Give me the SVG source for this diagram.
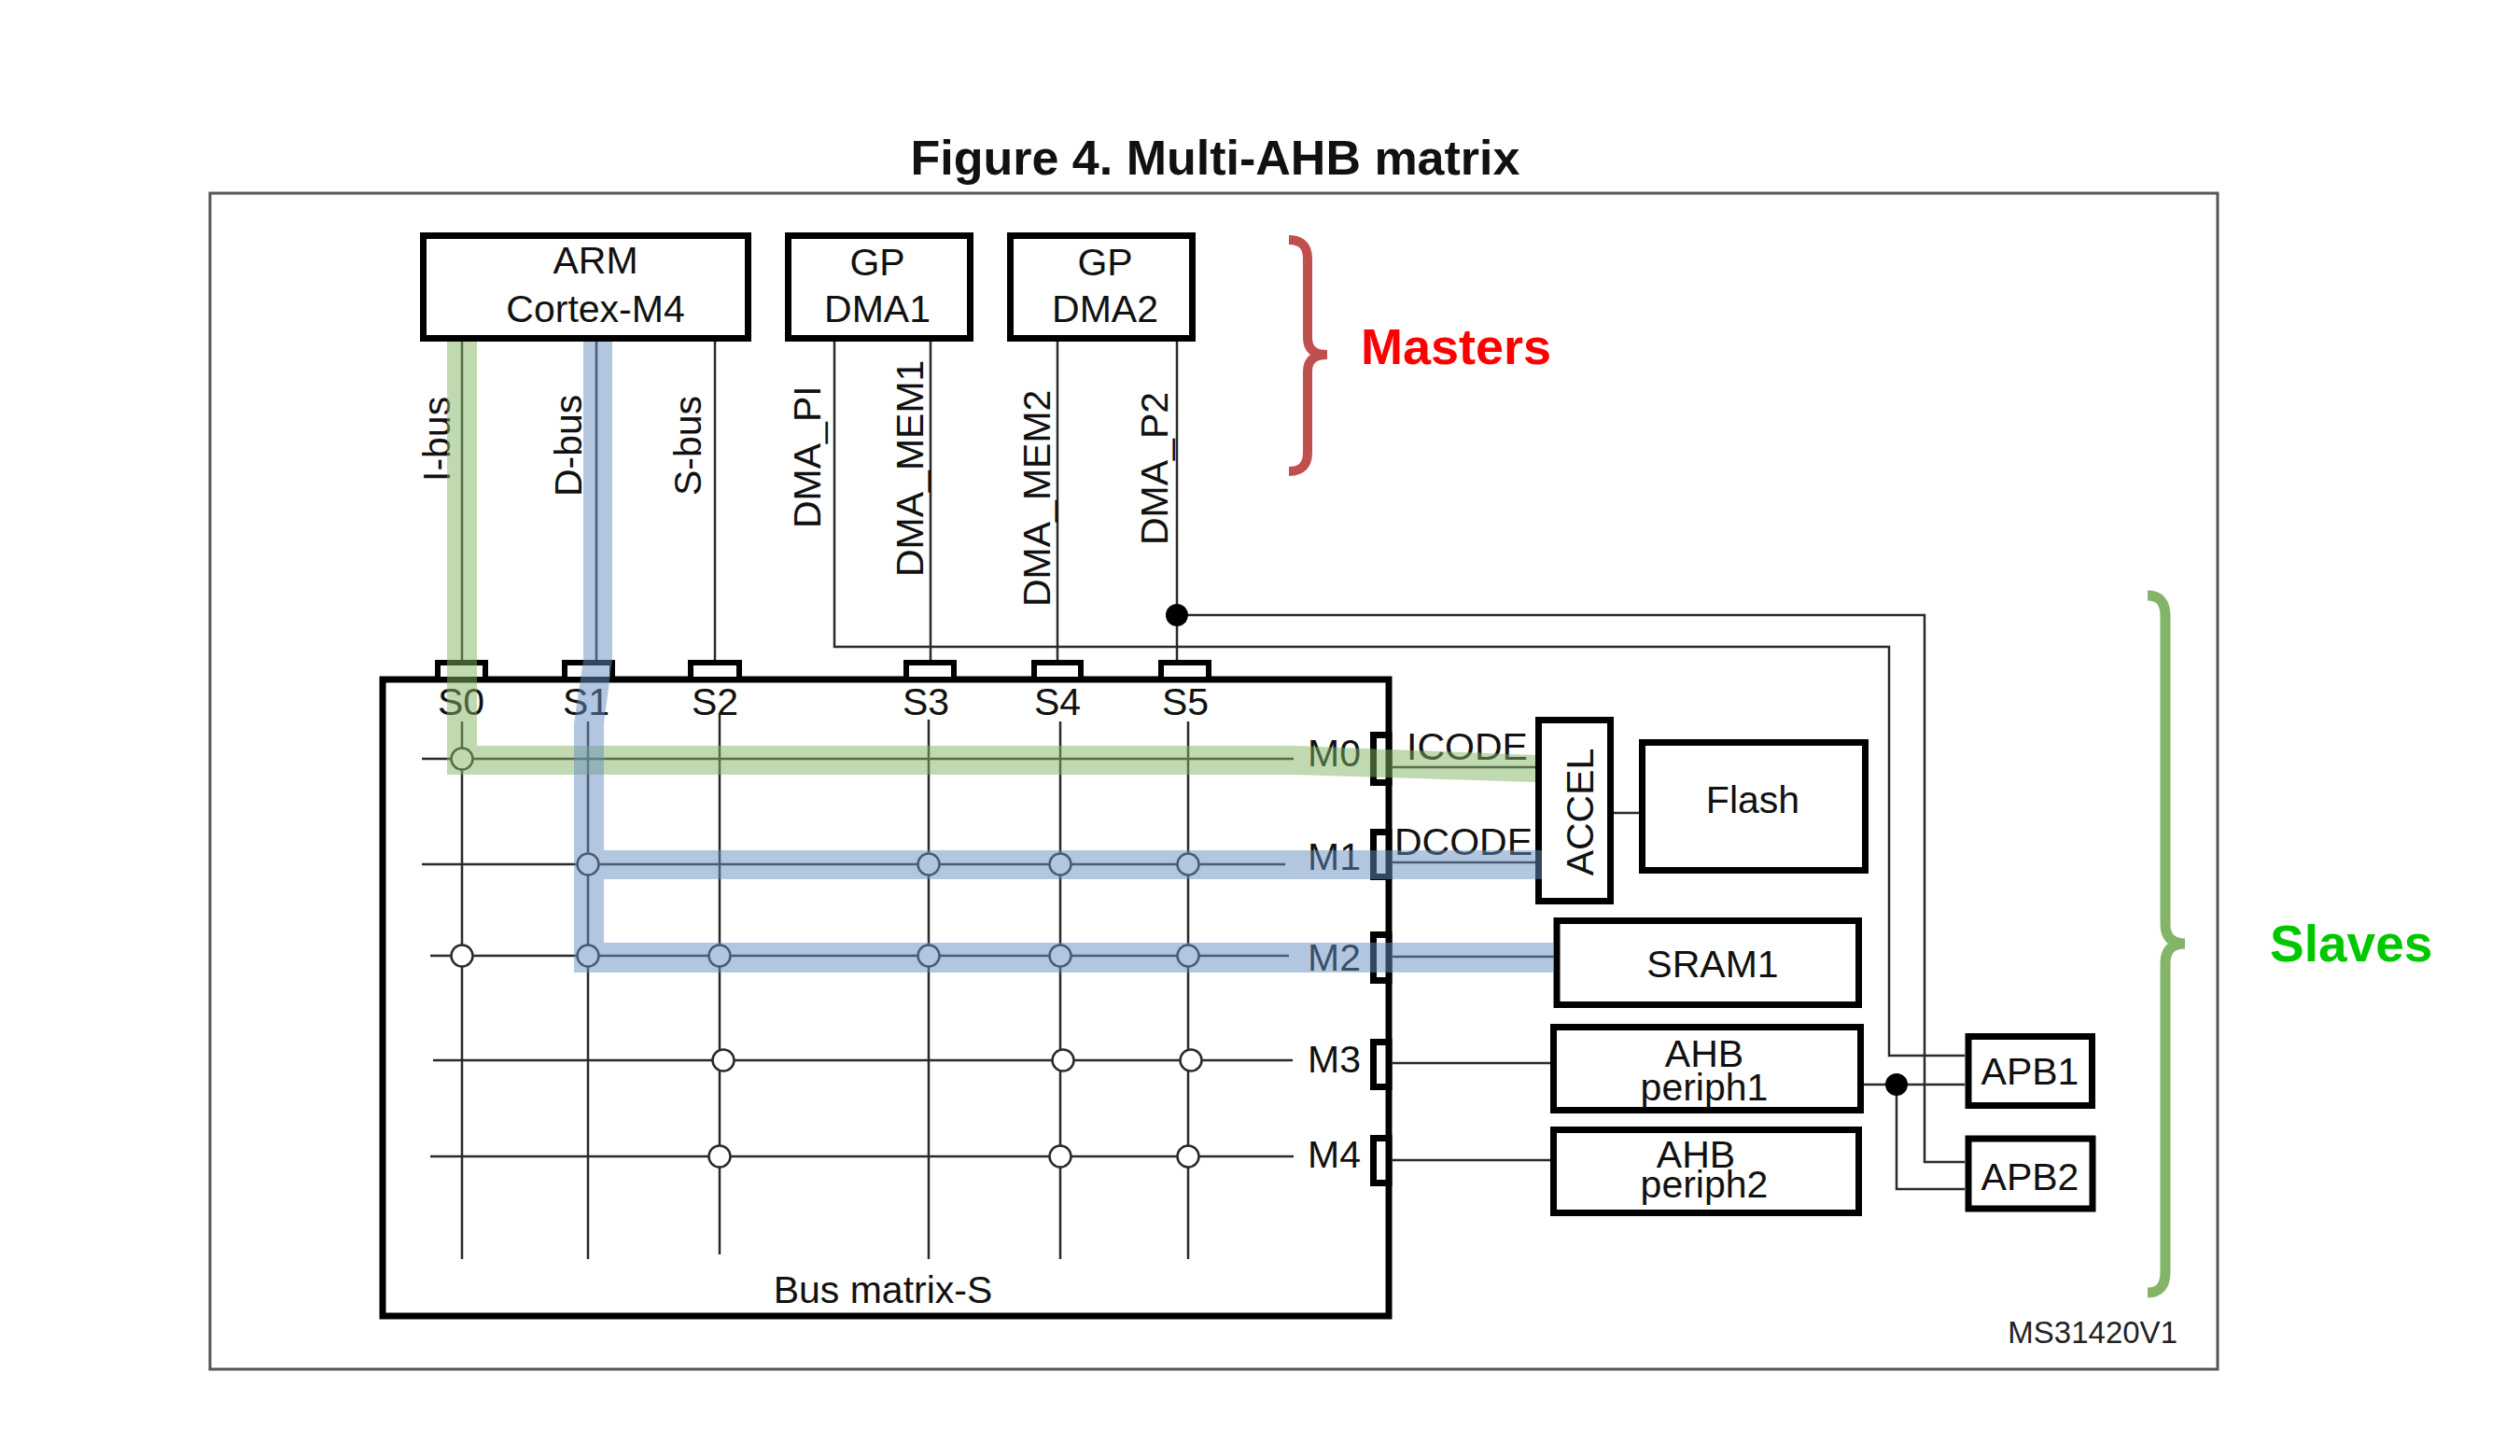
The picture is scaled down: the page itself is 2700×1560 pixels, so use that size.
<svg xmlns="http://www.w3.org/2000/svg" width="2700" height="1560" viewBox="0 0 2700 1560">
<style>
text{font-family:"Liberation Sans",Arial,sans-serif;fill:#111;}
.t{font-size:41px;}
.c{text-anchor:middle;}
.box{fill:#fff;stroke:#000;stroke-width:7;}
.port{fill:#fff;stroke:#000;stroke-width:6;}
.w{fill:none;stroke:#2a2a2a;stroke-width:2.5;}
.x{fill:#fff;stroke:#2a2a2a;stroke-width:2.5;}
.dot{fill:#000;}
.g{fill:rgb(129,179,97);fill-opacity:0.5;}
.b{fill:rgb(103,141,193);fill-opacity:0.5;}
</style>
<rect width="2700" height="1560" fill="#fff"/>
<text x="1302" y="187" class="c" style="font-size:52px;font-weight:bold;">Figure 4. Multi-AHB matrix</text>
<rect id="frame" x="225" y="207" width="2151" height="1260" fill="none" stroke="#555" stroke-width="3"/>

<g id="connectors">
  <path class="w" d="M495 366V707M639 366V707M766 366V707M997 366V707M1133 366V707M1261 366V707"/>
  <path class="w" d="M894 366V693H2024V1131H2105"/>
  <path class="w" d="M1261 659H2062V1245H2105"/>
  <circle class="dot" cx="1261" cy="659" r="12"/>
  <path class="w" d="M1492 822H1645M1492 924H1645M1492 1025H1665M1492 1139H1661M1492 1243H1661"/>
  <path class="w" d="M1729 871H1756"/>
  <path class="w" d="M1997 1162H2105M2032 1162V1274H2105"/>
  <circle class="dot" cx="2032" cy="1162" r="12"/>
</g>

<g id="bus-matrix">
  <rect class="box" x="410" y="728" width="1078" height="682"/>
  <rect class="port" x="469" y="710" width="51" height="18"/>
  <rect class="port" x="605" y="710" width="51" height="18"/>
  <rect class="port" x="740" y="710" width="52" height="18"/>
  <rect class="port" x="971" y="710" width="51" height="18"/>
  <rect class="port" x="1108" y="710" width="50" height="18"/>
  <rect class="port" x="1244" y="710" width="51" height="18"/>
  <text class="t c" x="494" y="766">S0</text>
  <text class="t c" x="628" y="766">S1</text>
  <text class="t c" x="766" y="766">S2</text>
  <text class="t c" x="992" y="766">S3</text>
  <text class="t c" x="1133" y="766">S4</text>
  <text class="t c" x="1270" y="766">S5</text>
  <path class="w" d="M495 773V1349M630 773V1349M771 764V1344M995 771V1349M1136 773V1349M1273 773V1349"/>
  <path class="w" d="M452 813H1386M452 926H1377M461 1024H1381M464 1136H1385M461 1239H1386"/>
  <circle class="x" cx="495" cy="813" r="11.5"/>
  <circle class="x" cx="630" cy="926" r="11.5"/>
  <circle class="x" cx="995" cy="926" r="11.5"/>
  <circle class="x" cx="1136" cy="926" r="11.5"/>
  <circle class="x" cx="1273" cy="926" r="11.5"/>
  <circle class="x" cx="495" cy="1024" r="11.5"/>
  <circle class="x" cx="630" cy="1024" r="11.5"/>
  <circle class="x" cx="771" cy="1024" r="11.5"/>
  <circle class="x" cx="995" cy="1024" r="11.5"/>
  <circle class="x" cx="1136" cy="1024" r="11.5"/>
  <circle class="x" cx="1273" cy="1024" r="11.5"/>
  <circle class="x" cx="775" cy="1136" r="11.5"/>
  <circle class="x" cx="1139" cy="1136" r="11.5"/>
  <circle class="x" cx="1276" cy="1136" r="11.5"/>
  <circle class="x" cx="771" cy="1239" r="11.5"/>
  <circle class="x" cx="1136" cy="1239" r="11.5"/>
  <circle class="x" cx="1273" cy="1239" r="11.5"/>
  <rect class="box" x="1471.5" y="787.5" width="16.5" height="51"/>
  <rect class="box" x="1471.5" y="891.5" width="16.5" height="48"/>
  <rect class="box" x="1471.5" y="1001.5" width="16.5" height="49"/>
  <rect class="box" x="1471.5" y="1116.5" width="16.5" height="48"/>
  <rect class="box" x="1471.5" y="1219.5" width="16.5" height="48"/>
  <text class="t" x="1401" y="821">M0</text>
  <text class="t" x="1401" y="932">M1</text>
  <text class="t" x="1401" y="1040">M2</text>
  <text class="t" x="1401" y="1149">M3</text>
  <text class="t" x="1401" y="1251">M4</text>
  <text class="t" x="1507" y="814">ICODE</text>
  <text class="t" x="1494" y="916">DCODE</text>
  <text class="t c" x="946" y="1396">Bus matrix-S</text>
</g>

<g id="bus-labels">
  <text class="t" transform="translate(482 516) rotate(-90)">I-bus</text>
  <text class="t" transform="translate(623 532) rotate(-90)">D-bus</text>
  <text class="t" transform="translate(751 531) rotate(-90)">S-bus</text>
  <text class="t" transform="translate(879 566) rotate(-90)">DMA_PI</text>
  <text class="t" transform="translate(989 618) rotate(-90)">DMA_MEM1</text>
  <text class="t" transform="translate(1125 650) rotate(-90)">DMA_MEM2</text>
  <text class="t" transform="translate(1251 584) rotate(-90)">DMA_P2</text>
</g>

<g id="arm">
  <rect class="box" x="453.5" y="252.5" width="348" height="110"/>
  <text class="t c" x="638" y="293">ARM</text>
  <text class="t c" x="638" y="345">Cortex-M4</text>
</g>
<g id="dma1">
  <rect class="box" x="844.5" y="252.5" width="195" height="110"/>
  <text class="t c" x="940" y="295">GP</text>
  <text class="t c" x="940" y="345">DMA1</text>
</g>
<g id="dma2">
  <rect class="box" x="1082.5" y="252.5" width="195" height="110"/>
  <text class="t c" x="1184" y="295">GP</text>
  <text class="t c" x="1184" y="345">DMA2</text>
</g>
<g id="accel">
  <rect class="box" x="1648.5" y="771.5" width="77" height="194"/>
  <text class="t c" transform="translate(1707 870) rotate(-90)">ACCEL</text>
</g>
<g id="flash">
  <rect class="box" x="1759.5" y="795.5" width="239" height="137"/>
  <text class="t c" x="1878" y="871">Flash</text>
</g>
<g id="sram1">
  <rect class="box" x="1668" y="986.5" width="323.5" height="90"/>
  <text class="t c" x="1835" y="1047">SRAM1</text>
</g>
<g id="ahb1">
  <rect class="box" x="1664.5" y="1100.5" width="329" height="89"/>
  <text class="t c" x="1826" y="1143">AHB</text>
  <text class="t c" x="1826" y="1179">periph1</text>
</g>
<g id="ahb2">
  <rect class="box" x="1664.5" y="1210.5" width="327" height="89"/>
  <text class="t c" x="1817" y="1251">AHB</text>
  <text class="t c" x="1826" y="1283">periph2</text>
</g>
<g id="apb1">
  <rect class="box" x="2109" y="1110.5" width="132.5" height="74" stroke="#231f20" stroke-width="8"/>
  <text class="t c" x="2175" y="1162">APB1</text>
</g>
<g id="apb2">
  <rect class="box" x="2109" y="1220" width="133" height="75" stroke="#231f20" stroke-width="8"/>
  <text class="t c" x="2175" y="1275">APB2</text>
</g>

<g id="highlights">
  <polygon class="g" points="479,366 511,366 511,799 1386,799 1645,809 1645,838 1386,830 479,830"/>
  <polygon class="b" points="625,366 656,366 656,707 647,775 647,1010 1665,1010 1665,1042 615,1042 615,775 625,707"/>
  <rect class="b" x="647" y="911" width="1005" height="31"/>
</g>

<g id="masters">
  <path d="M1381 257Q1401 257 1401 277V362Q1401 380 1422 380Q1401 380 1401 398V485Q1401 505 1381 505" fill="none" stroke="#c0504d" stroke-width="10"/>
  <text x="1458" y="390" style="font-size:54px;font-weight:bold;fill:#ff0000;">Masters</text>
</g>
<g id="slaves">
  <path d="M2301 638Q2320 638 2320 660V990Q2320 1011 2341 1011Q2320 1011 2320 1032V1363Q2320 1385 2301 1385" fill="none" stroke="#84b468" stroke-width="11"/>
  <text x="2432" y="1030" style="font-size:55px;font-weight:bold;fill:#00c800;">Slaves</text>
</g>
<text x="2333" y="1439" style="font-size:33px;fill:#222;text-anchor:end;">MS31420V1</text>
</svg>
